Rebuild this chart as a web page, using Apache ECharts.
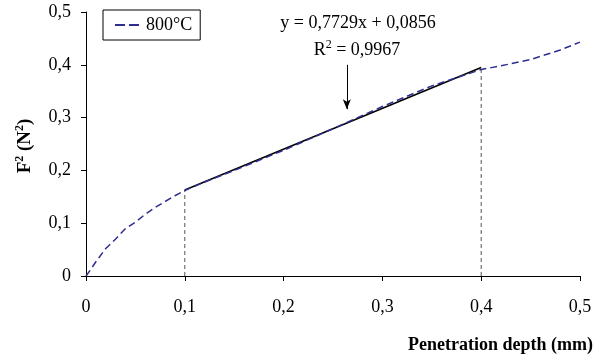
<!DOCTYPE html>
<html>
<head>
<meta charset="utf-8">
<script src="https://cdn.jsdelivr.net/npm/echarts@6/dist/echarts.min.js"></script>
<style>
  html, body { margin: 0; padding: 0; background: #fff; }
  #chart { width: 602px; height: 358px; }
</style>
</head>
<body>
<div id="chart"></div>
<script>
// measured curve at 800°C
const depth = [0, 0.005, 0.01, 0.02, 0.03, 0.04, 0.05, 0.06, 0.07, 0.08, 0.09, 0.1,
  0.12, 0.15, 0.2, 0.25, 0.3, 0.35, 0.4, 0.42, 0.45, 0.48, 0.5];
const forceSq = [0, 0.013, 0.027, 0.052, 0.07, 0.09, 0.102, 0.117, 0.13, 0.141, 0.152, 0.162,
  0.178, 0.2, 0.238, 0.279, 0.321, 0.36, 0.391, 0.398, 0.41, 0.428, 0.443];

// linear fit segment (ends)
const fitX = [0.1, 0.4];
const fitY = [0.163, 0.395];

// vertical guide lines
const guideX = [0.1, 0.4];
const guideTop = [0.163, 0.392];

// arrow pointing at the fit
const arrowX = 0.264;
const arrowY = [0.4, 0.316];

const serif = "'Liberation Serif', 'DejaVu Serif', serif";
const comma = v => String(+v.toFixed(1)).replace(".", ",");
const navy = "#2E2E92";

const chart = echarts.init(document.getElementById("chart"));

const guides = guideX.map((x, i) => ({
  name: "guide" + i,
  type: "line",
  data: [[x, 0], [x, guideTop[i]]],
  symbol: "none",
  silent: true,
  lineStyle: { color: "#555", width: 1, type: [4, 3] },
  z: 1,
}));

const option = {
  animation: false,
  backgroundColor: "#fff",
  grid: { left: 86, right: 22, top: 12, bottom: 82 },
  legend: {
    data: [{ name: "800°C", icon: "path://M0,0h10v2h-10z M14,0h10v2h-10z" }],
    left: 103,
    top: 10,
    padding: [6, 8, 6, 12],
    borderColor: "#000",
    borderWidth: 1,
    borderRadius: 0,
    itemWidth: 24,
    itemHeight: 2,
    itemGap: 4,
    textStyle: { fontFamily: serif, fontSize: 18, color: "#000", padding: [0, 0, 0, 2] },
  },
  xAxis: {
    type: "value",
    min: 0,
    max: 0.5,
    interval: 0.1,
    splitLine: { show: false },
    axisLine: { onZero: false, lineStyle: { color: "#000", width: 1 } },
    axisTick: { show: true, inside: false, length: 5, lineStyle: { color: "#000" } },
    axisLabel: {
      margin: 22,
      fontFamily: serif,
      fontSize: 18,
      color: "#000",
      formatter: v => comma(v),
      showMinLabel: true,
      showMaxLabel: true,
    },
  },
  yAxis: {
    type: "value",
    min: 0,
    max: 0.5,
    interval: 0.1,
    splitLine: { show: false },
    axisLine: { show: true, onZero: false, lineStyle: { color: "#000", width: 1 } },
    axisTick: { show: true, inside: false, length: 5, lineStyle: { color: "#000" } },
    axisLabel: {
      margin: 15,
      fontFamily: serif,
      fontSize: 18,
      color: "#000",
      formatter: v => comma(v),
    },
  },
  graphic: [
    {
      type: "text",
      x: 358,
      y: 23,
      style: {
        text: "y = 0,7729x + 0,0856",
        font: "18px " + serif,
        fill: "#000",
        align: "center",
        verticalAlign: "middle",
      },
    },
    {
      type: "text",
      x: 357,
      y: 50,
      style: {
        text: "{n|R}{s|2}{n| = 0,9967}",
        align: "center",
        verticalAlign: "middle",
        rich: {
          n: { font: "18px " + serif, fill: "#000" },
          s: { font: "12px " + serif, fill: "#000", padding: [0, 0, 10, 0] },
        },
      },
    },
    {
      type: "text",
      x: 593,
      y: 345,
      style: {
        text: "Penetration depth (mm)",
        font: "bold 18px " + serif,
        fill: "#000",
        align: "right",
        verticalAlign: "middle",
      },
    },
    {
      type: "text",
      x: 25,
      y: 146,
      rotation: Math.PI / 2,
      style: {
        text: "{b|F}{s|2}{b| (N}{s|2}{b|)}",
        align: "center",
        verticalAlign: "middle",
        rich: {
          b: { font: "bold 19px " + serif, fill: "#000" },
          s: { font: "bold 12px " + serif, fill: "#000", padding: [0, 0, 10, 0] },
        },
      },
    },
  ],
  series: [
    ...guides,
    {
      name: "fit",
      type: "line",
      data: fitX.map((x, i) => [x, fitY[i]]),
      symbol: "none",
      lineStyle: { color: "#000", width: 1.6 },
      z: 2,
      markLine: {
        silent: true,
        symbol: ["none", "arrow"],
        symbolSize: [6, 10],
        label: { show: false },
        lineStyle: { color: "#000", width: 1, type: "solid" },
        data: [[{ coord: [arrowX, arrowY[0]] }, { coord: [arrowX, arrowY[1]] }]],
      },
    },
    {
      name: "800°C",
      type: "line",
      data: depth.map((x, i) => [x, forceSq[i]]),
      symbol: "none",
      smooth: false,
      lineStyle: { color: navy, width: 1.5, type: [7, 4] },
      itemStyle: { color: navy },
      z: 3,
    },
  ],
};

chart.setOption(option);
window.addEventListener("resize", () => chart.resize());
</script>
</body>
</html>
